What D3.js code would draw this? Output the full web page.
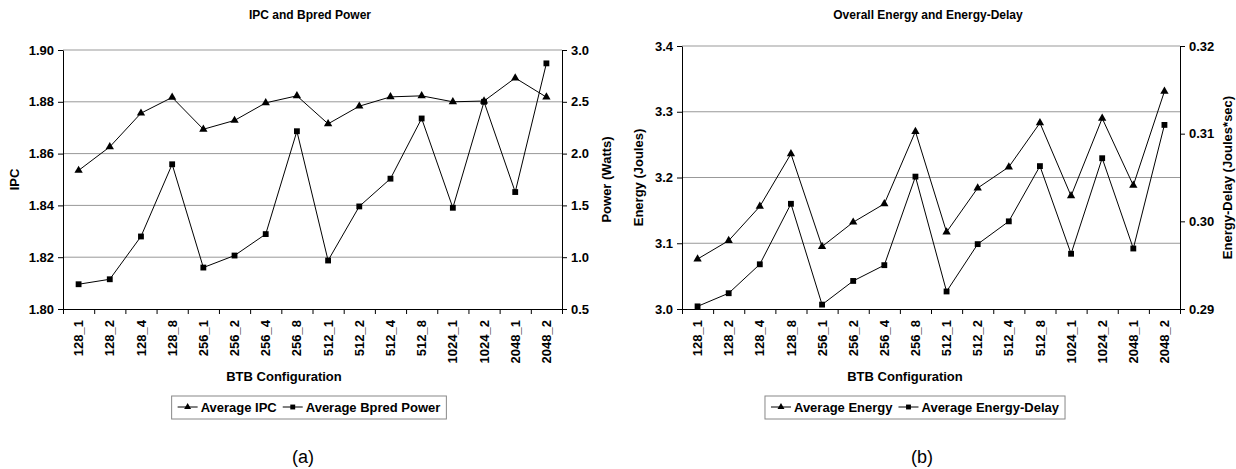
<!DOCTYPE html>
<html>
<head>
<meta charset="utf-8">
<script src="https://cdn.jsdelivr.net/npm/d3@7"></script>
<style>
  body { margin: 0; background: #fff; }
  svg { font-family: "Liberation Sans", Arial, sans-serif; }
  .tick text { font-size: 13px; font-weight: bold; fill: #000; }
  .axis-title { font-size: 13px; font-weight: bold; }
  .chart-title { font-size: 12px; font-weight: bold; }
  .legend text { font-size: 13px; font-weight: bold; }
</style>
</head>
<body>
<svg id="chart" width="1236" height="469"></svg>
<script>
// BTB configurations on the x axis
const configs = ["128_1", "128_2", "128_4", "128_8", "256_1", "256_2", "256_4", "256_8",
  "512_1", "512_2", "512_4", "512_8", "1024_1", "1024_2", "2048_1", "2048_2"];

// (a) IPC and Bpred power
const avgIPC = [1.8535, 1.8626, 1.8756, 1.8817, 1.8694, 1.8728, 1.8796, 1.8823,
  1.8715, 1.8783, 1.8819, 1.8823, 1.8800, 1.8803, 1.8892, 1.8818];
const avgBpredPower = [0.739, 0.787, 1.200, 1.897, 0.900, 1.016, 1.223, 2.216,
  0.968, 1.490, 1.758, 2.339, 1.477, 2.500, 1.629, 2.871];

// (b) Energy and energy-delay
const avgEnergy = [3.076, 3.104, 3.156, 3.236, 3.095, 3.132, 3.160, 3.270,
  3.117, 3.184, 3.216, 3.283, 3.172, 3.290, 3.188, 3.331];
const avgEnergyDelay = [0.2903, 0.2918, 0.2951, 0.3020, 0.2905, 0.2932, 0.2950, 0.3051,
  0.2920, 0.2974, 0.3000, 0.3063, 0.2963, 0.3072, 0.2969, 0.3110];

// tick values
const ipcTicks = [1.80, 1.82, 1.84, 1.86, 1.88, 1.90];
const powerTicks = [0.5, 1.0, 1.5, 2.0, 2.5, 3.0];
const energyTicks = [3.0, 3.1, 3.2, 3.3, 3.4];
const edTicks = [0.29, 0.30, 0.31, 0.32];

const svg = d3.select('#chart');

function drawChart(c) {
  const g = svg.append('g');

  const x = d3.scaleBand().domain(configs).range([c.left, c.right]);
  const xEdges = d3.scaleLinear().domain([0, configs.length]).range([c.left, c.right]);
  const yL = d3.scaleLinear().domain(d3.extent(c.leftTicks)).range([c.bottom, c.top]);
  const yR = d3.scaleLinear().domain(d3.extent(c.rightTicks)).range([c.bottom, c.top]);

  // gridlines from the left axis
  g.append('g')
    .selectAll('line')
    .data(c.leftTicks.slice(1))
    .enter()
    .append('line')
    .attr('x1', c.left)
    .attr('x2', c.right)
    .attr('y1', d => yL(d))
    .attr('y2', d => yL(d))
    .attr('stroke', '#999')
    .attr('stroke-width', 1);

  // left axis
  g.append('g')
    .attr('transform', `translate(${c.left},0)`)
    .call(d3.axisLeft(yL).tickValues(c.leftTicks).tickFormat(d3.format(c.leftFmt))
      .tickSize(5).tickSizeOuter(0).tickPadding(4))
    .call(a => a.select('.domain').attr('stroke', '#000'));

  // right axis
  g.append('g')
    .attr('transform', `translate(${c.right},0)`)
    .call(d3.axisRight(yR).tickValues(c.rightTicks).tickFormat(d3.format(c.rightFmt))
      .tickSize(5).tickSizeOuter(0).tickPadding(4))
    .call(a => a.select('.domain').attr('stroke', '#000'));

  // x axis: tick marks between categories
  g.append('g')
    .attr('transform', `translate(0,${c.bottom})`)
    .call(d3.axisBottom(xEdges).tickValues(d3.range(configs.length + 1)).tickFormat('')
      .tickSize(5).tickSizeOuter(0));

  // x axis: rotated category labels
  g.append('g')
    .attr('transform', `translate(0,${c.bottom})`)
    .call(d3.axisBottom(x).tickSize(0))
    .call(a => a.select('.domain').remove())
    .selectAll('text')
    .attr('transform', 'rotate(-90)')
    .attr('text-anchor', 'end')
    .attr('x', -11)
    .attr('y', 0)
    .attr('dy', '0.35em');

  const cx = d => x(d) + x.bandwidth() / 2;
  const series = [
    { name: c.leftName, values: c.leftValues, y: yL, symbol: d3.symbolTriangle, size: 30 },
    { name: c.rightName, values: c.rightValues, y: yR, symbol: d3.symbolSquare, size: 34 }
  ];

  series.forEach(s => {
    const line = d3.line()
      .x((d, i) => cx(configs[i]))
      .y(d => s.y(d));
    g.append('path')
      .datum(s.values)
      .attr('d', line)
      .attr('fill', 'none')
      .attr('stroke', '#000')
      .attr('stroke-width', 1);
    g.append('g')
      .selectAll('path')
      .data(s.values)
      .enter()
      .append('path')
      .attr('d', d3.symbol(s.symbol, s.size))
      .attr('transform', (d, i) => `translate(${cx(configs[i])},${s.y(d)})`)
      .attr('fill', '#000');
  });

  // titles
  g.append('text')
    .attr('class', 'chart-title')
    .attr('x', c.titleX)
    .attr('y', 19)
    .attr('text-anchor', 'middle')
    .text(c.title);

  g.append('text')
    .attr('class', 'axis-title')
    .attr('transform', `translate(${c.leftTitleX},${(c.top + c.bottom) / 2}) rotate(-90)`)
    .attr('text-anchor', 'middle')
    .attr('dy', '0.35em')
    .text(c.leftTitle);

  g.append('text')
    .attr('class', 'axis-title')
    .attr('transform', `translate(${c.rightTitleX},${(c.top + c.bottom) / 2}) rotate(-90)`)
    .attr('text-anchor', 'middle')
    .attr('dy', '0.35em')
    .text(c.rightTitle);

  g.append('text')
    .attr('class', 'axis-title')
    .attr('x', c.xTitleX)
    .attr('y', 381)
    .attr('text-anchor', 'middle')
    .text('BTB Configuration');

  // legend
  const lg = g.append('g').attr('class', 'legend');
  const box = lg.append('rect')
    .attr('fill', '#fff')
    .attr('stroke', '#888')
    .attr('stroke-width', 1);
  let lx = 6;
  series.forEach(s => {
    lg.append('line')
      .attr('x1', lx).attr('x2', lx + 20)
      .attr('y1', 0).attr('y2', 0)
      .attr('stroke', '#000');
    lg.append('path')
      .attr('d', d3.symbol(s.symbol, s.size * 0.7))
      .attr('transform', `translate(${lx + 10},0)`);
    const t = lg.append('text')
      .attr('x', lx + 23)
      .attr('y', 0)
      .attr('dy', '0.35em')
      .text(s.name);
    lx += 23 + t.node().getComputedTextLength() + 6;
  });
  box.attr('x', 0).attr('y', -11).attr('width', lx).attr('height', 23);
  lg.attr('transform', `translate(${c.legendX - lx / 2},407)`);

  g.append('text')
    .attr('x', c.captionX)
    .attr('y', 463)
    .attr('text-anchor', 'middle')
    .style('font-size', '18px')
    .text(c.caption);
}

drawChart({
  left: 63, right: 562, top: 50, bottom: 309,
  leftTicks: ipcTicks, rightTicks: powerTicks, leftFmt: '.2f', rightFmt: '.1f',
  leftValues: avgIPC, rightValues: avgBpredPower,
  leftName: 'Average IPC', rightName: 'Average Bpred Power',
  title: 'IPC and Bpred Power', titleX: 310,
  leftTitle: 'IPC', leftTitleX: 14,
  rightTitle: 'Power (Watts)', rightTitleX: 606,
  xTitleX: 284, legendX: 309, caption: '(a)', captionX: 303
});

drawChart({
  left: 682, right: 1180, top: 46, bottom: 309,
  leftTicks: energyTicks, rightTicks: edTicks, leftFmt: '.1f', rightFmt: '.2f',
  leftValues: avgEnergy, rightValues: avgEnergyDelay,
  leftName: 'Average Energy', rightName: 'Average Energy-Delay',
  title: 'Overall Energy and Energy-Delay', titleX: 928,
  leftTitle: 'Energy (Joules)', leftTitleX: 638,
  rightTitle: 'Energy-Delay (Joules*sec)', rightTitleX: 1227,
  xTitleX: 905, legendX: 915, caption: '(b)', captionX: 922
});
</script>
</body>
</html>
